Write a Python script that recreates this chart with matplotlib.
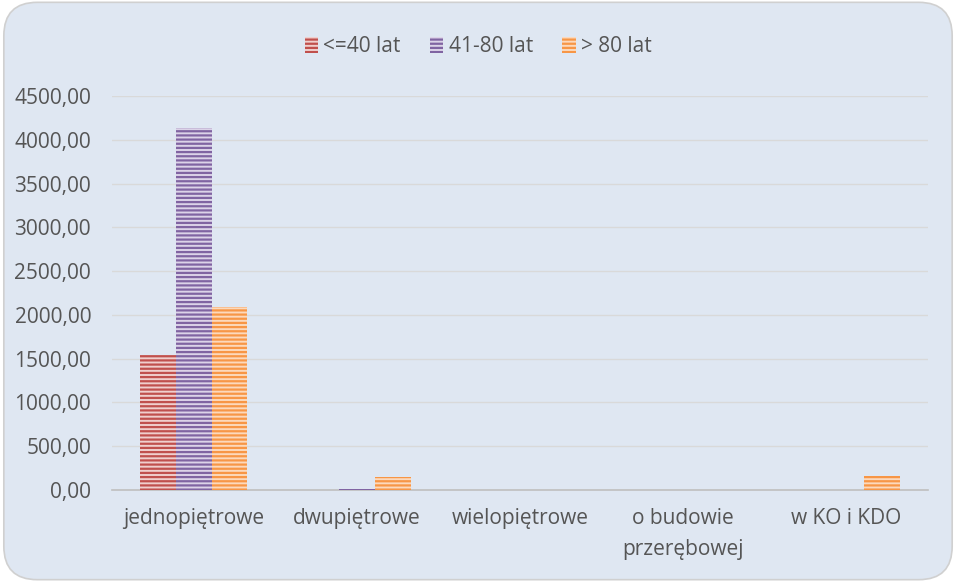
import numpy as np
import matplotlib.pyplot as plt
from matplotlib.patches import FancyBboxPatch

categories = ["jednopiętrowe", "dwupiętrowe", "wielopiętrowe", "o budowie\nprzerębowej", "w KO i KDO"]
series = ["<=40 lat", "41-80 lat", "> 80 lat"]
under_40 = [1540, 0, 0, 0, 0]
from_41_80 = [4140, 15, 0, 0, 0]
over_80 = [2090, 145, 0, 0, 160]
values = [under_40, from_41_80, over_80]
edge_colors = ["#C0504D", "#8064A2", "#F79646"]
face_colors = ["#F0CFCD", "#DCD3E8", "#FCD9BC"]

plt.rcParams["font.family"] = ["Open Sans", "DejaVu Sans"]
plt.rcParams["hatch.linewidth"] = 1.6

fig = plt.figure(figsize=(9.56, 5.82), dpi=100)
fig.patch.set_facecolor("white")
bg = FancyBboxPatch((0.004, 0.004), 0.992, 0.992, boxstyle="round,pad=0,rounding_size=0.035",
                    transform=fig.transFigure, facecolor="#DFE7F2", edgecolor="#D0D0D0",
                    linewidth=1.2, mutation_aspect=956 / 582, zorder=-10)
fig.patches.append(bg)

ax = fig.add_axes([112 / 956, 1 - 490 / 582, 816 / 956, 394 / 582])
ax.set_facecolor("none")

x = np.arange(len(categories))
w = 0.22
for i, (vals, ec, fc, name) in enumerate(zip(values, edge_colors, face_colors, series)):
    ax.bar(x + (i - 1) * w, vals, w, color=fc, edgecolor=ec, hatch="----",
           linewidth=0, label=name, zorder=3)

ax.set_xlim(-0.5, len(categories) - 0.5)
ax.set_ylim(0, 4500)
ax.set_yticks(np.arange(0, 4501, 500))
ax.set_yticklabels([f"{v:.2f}".replace(".", ",") for v in np.arange(0, 4501, 500)])
ax.yaxis.grid(True, color="#D9D9D9", linewidth=1, zorder=0)
ax.set_axisbelow(True)
for s in ["top", "right", "left"]:
    ax.spines[s].set_visible(False)
ax.spines["bottom"].set_color("#BFBFBF")
ax.spines["bottom"].set_linewidth(1.2)
ax.tick_params(axis="both", length=0, labelsize=15, colors="#555555", pad=15)
ax.tick_params(axis="x", pad=13)
ax.set_xticks(x)
ax.set_xticklabels(categories, linespacing=1.6)

fig.legend(loc="upper center", bbox_to_anchor=(0.5, 0.97), ncol=3, frameon=False,
           fontsize=15, handlelength=0.65, handleheight=0.75, handletextpad=0.25,
           columnspacing=1.4, labelcolor="#555555")

fig.savefig("out.png", dpi=100)
